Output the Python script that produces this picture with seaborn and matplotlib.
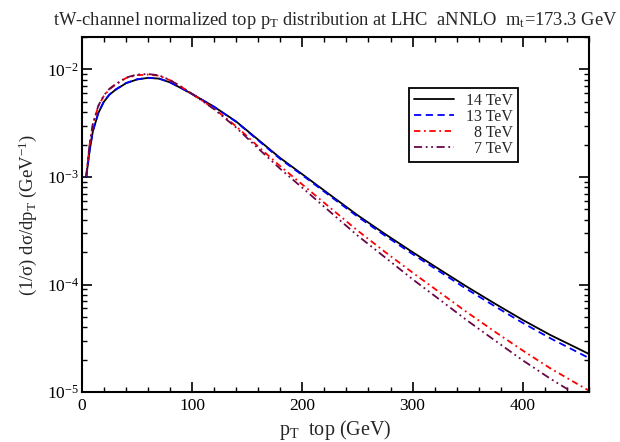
import matplotlib
matplotlib.use('Agg')

import matplotlib.pyplot as plt
import numpy as np
import pandas as pd
import seaborn as sns
from matplotlib.ticker import FuncFormatter, LogLocator, MultipleLocator

# ------------------------------------------------------------
#     Data (y values in 1/GeV)
# ------------------------------------------------------------

pt = [4, 7, 10, 15, 20, 25, 30, 40, 50, 60, 70, 80, 90, 100, 120, 140, 160,
      180, 200, 225, 250, 275, 300, 325, 350, 375, 400, 425, 450, 460]

tev14 = [1.00e-3, 1.74e-3, 2.66e-3, 3.94e-3, 5.01e-3, 5.82e-3, 6.41e-3, 7.45e-3,
         8.07e-3, 8.36e-3, 8.22e-3, 7.59e-3, 6.71e-3, 5.92e-3, 4.50e-3, 3.28e-3,
         2.22e-3, 1.50e-3, 1.06e-3, 6.84e-4, 4.42e-4, 2.95e-4, 2.00e-4, 1.37e-4,
         9.44e-5, 6.61e-5, 4.68e-5, 3.39e-5, 2.54e-5, 2.26e-5]

tev13 = [1.00e-3, 1.76e-3, 2.69e-3, 3.98e-3, 5.05e-3, 5.86e-3, 6.46e-3, 7.48e-3,
         8.11e-3, 8.38e-3, 8.24e-3, 7.60e-3, 6.73e-3, 5.92e-3, 4.49e-3, 3.26e-3,
         2.19e-3, 1.47e-3, 1.04e-3, 6.67e-4, 4.29e-4, 2.85e-4, 1.92e-4, 1.31e-4,
         8.95e-5, 6.24e-5, 4.39e-5, 3.16e-5, 2.34e-5, 2.07e-5]

tev8 = [1.02e-3, 2.00e-3, 3.09e-3, 4.57e-3, 5.69e-3, 6.53e-3, 7.16e-3, 8.32e-3,
        8.85e-3, 8.97e-3, 8.75e-3, 7.94e-3, 6.92e-3, 5.92e-3, 4.33e-3, 2.96e-3,
        1.92e-3, 1.26e-3, 8.51e-4, 5.20e-4, 3.18e-4, 2.01e-4, 1.29e-4, 8.39e-5,
        5.46e-5, 3.62e-5, 2.43e-5, 1.66e-5, 1.18e-5, 1.03e-5]

tev7 = [1.02e-3, 2.02e-3, 3.13e-3, 4.62e-3, 5.75e-3, 6.61e-3, 7.24e-3, 8.41e-3,
        8.97e-3, 9.08e-3, 8.83e-3, 7.98e-3, 6.92e-3, 5.92e-3, 4.27e-3, 2.88e-3,
        1.84e-3, 1.19e-3, 7.94e-4, 4.76e-4, 2.86e-4, 1.79e-4, 1.12e-4, 7.18e-5,
        4.59e-5, 3.00e-5, 1.97e-5, 1.33e-5, 9.27e-6, 8.13e-6]

labels = ["14 TeV", "13 TeV", "  8 TeV", "  7 TeV"]

# ------------------------------------------------------------
#     Style
# ------------------------------------------------------------

palette = {
    "14 TeV": "#000000",
    "13 TeV": "#0000ff",
    "  8 TeV": "#ff0000",
    "  7 TeV": "#670748",
}
dashes = {
    "14 TeV": "",
    "13 TeV": (4, 2.5),
    "  8 TeV": (3.5, 2, 1, 2),
    "  7 TeV": (4.5, 2, 1, 2, 1, 2),
}

sns.set_style("ticks")
plt.rcParams['font.family'] = ['Liberation Serif', 'DejaVu Serif']
plt.rcParams['mathtext.fontset'] = 'custom'
plt.rcParams['mathtext.rm'] = 'Liberation Serif'
plt.rcParams['mathtext.it'] = 'Liberation Serif:italic'
plt.rcParams['mathtext.bf'] = 'Liberation Serif:bold'

# long format for seaborn
df = pd.DataFrame({
    "pt": pt * 4,
    "val": tev14 + tev13 + tev8 + tev7,
    "energy": [l for l in labels for _ in pt],
})

# ------------------------------------------------------------
#     Plot
# ------------------------------------------------------------

fig, ax = plt.subplots(figsize=(6.2, 4.42), dpi=100)
fig.subplots_adjust(left=0.132, right=0.95, top=0.916, bottom=0.113)

sns.lineplot(
    data=df, x="pt", y="val", hue="energy", style="energy",
    palette=palette, dashes=dashes, hue_order=labels, style_order=labels,
    linewidth=1.3, ax=ax
)

ax.set_yscale('log')
ax.set_xlim(0, 460)
ax.set_ylim(1e-5, 2.0e-2)

ax.xaxis.set_major_locator(MultipleLocator(100))
ax.xaxis.set_minor_locator(MultipleLocator(20))
ax.yaxis.set_major_locator(LogLocator(base=10))
ax.yaxis.set_minor_locator(LogLocator(base=10, subs=np.arange(2, 10)))
ax.yaxis.set_major_formatter(
    FuncFormatter(lambda v, p: r"$\mathregular{10^{%d}}$" % int(round(np.log10(v))))
)

ax.tick_params(which='both', direction='in', top=True, right=True, colors='k')
ax.tick_params(which='major', length=7, width=1.2, labelsize=12.5)
ax.tick_params(axis='x', which='major', pad=4)
ax.tick_params(axis='y', which='major', pad=2)
ax.tick_params(which='minor', length=3.5, width=1.0)
for s in ax.spines.values():
    s.set_linewidth(1.5)
    s.set_color('k')

ax.set_title(
    r"tW-channel normalized top $\mathregular{p_T}$ distribution at LHC  aNNLO  $\mathregular{m_t}$=173.3 GeV",
    fontsize=13.3, pad=9
)
ax.set_xlabel(r"$\mathregular{p_T}$  top (GeV)", fontsize=14.5)
ax.set_ylabel(r"(1/σ) dσ/d$\mathregular{p_T}$ (GeV$^{\mathregular{-1}}$)", fontsize=13.5)
ax.xaxis.set_label_coords(0.5, -0.073)
ax.yaxis.set_label_coords(-0.085, 0.5)

# legend box: right edge ~518 px, top ~88 px in the figure
leg = ax.legend(
    title=None, loc='upper right', bbox_to_anchor=(518 / 620, 1 - 88 / 442),
    bbox_transform=fig.transFigure,
    fontsize=11.5, frameon=True, fancybox=False, handlelength=2.5,
    labelspacing=0.0, borderpad=0.3, handletextpad=0.8, borderaxespad=0
)
leg.get_frame().set_edgecolor('k')
leg.get_frame().set_linewidth(1.3)
leg.get_frame().set_alpha(1)

plt.savefig("out.png", dpi=100)
